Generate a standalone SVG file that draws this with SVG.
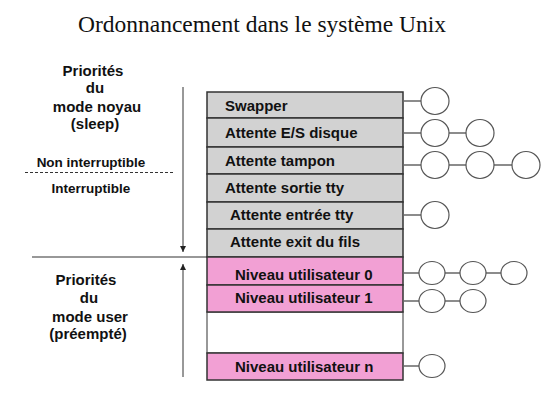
<svg xmlns="http://www.w3.org/2000/svg" width="550" height="413" viewBox="0 0 550 413">
<style>
.t{font-family:"Liberation Sans",Arial,sans-serif;font-weight:bold;font-size:15px;fill:#111}
.s{font-family:"Liberation Sans",Arial,sans-serif;font-weight:bold;font-size:13.5px;fill:#111}
.title{font-family:"Liberation Serif","Times New Roman",serif;font-size:23.5px;fill:#111}
.g{fill:#d2d2d2;stroke:#333;stroke-width:1.5}
.p{fill:#f2a0d4;stroke:#333;stroke-width:1.5}
.c{fill:#fff;stroke:#555;stroke-width:1.2}
.l{stroke:#666;stroke-width:1.5;fill:none}
.a{stroke:#333;stroke-width:1;fill:none}
</style>
<defs>
<marker id="ah" viewBox="0 0 6 6" refX="6" refY="3" markerWidth="6" markerHeight="6" orient="auto" markerUnits="userSpaceOnUse">
<path d="M0,0 L6,3 L0,6 z" fill="#222"/>
</marker>
</defs>
<rect width="550" height="413" fill="#fff"/>
<text class="title" x="262" y="32" text-anchor="middle">Ordonnancement dans le système Unix</text>

<g id="labels-noyau">
<text class="t" x="93" y="76" text-anchor="middle">Priorités</text>
<text class="t" x="95" y="93" text-anchor="middle">du</text>
<text class="t" x="97" y="112" text-anchor="middle">mode noyau</text>
<text class="t" x="95" y="129" text-anchor="middle">(sleep)</text>
<text class="s" x="91" y="167" text-anchor="middle">Non interruptible</text>
<line x1="25" y1="172.5" x2="173" y2="172.5" stroke="#333" stroke-width="1" stroke-dasharray="3,2"/>
<text class="s" x="91" y="193" text-anchor="middle">Interruptible</text>
</g>
<g id="labels-user">
<text class="t" x="86" y="285" text-anchor="middle">Priorités</text>
<text class="t" x="89" y="303" text-anchor="middle">du</text>
<text class="t" x="90" y="322" text-anchor="middle">mode user</text>
<text class="t" x="88" y="339" text-anchor="middle">(préempté)</text>
</g>

<g id="axes">
<line class="a" x1="183" y1="87" x2="183" y2="252" marker-end="url(#ah)"/>
<line class="a" x1="183" y1="377" x2="183" y2="264" marker-end="url(#ah)"/>
<line x1="32" y1="257" x2="207" y2="257" stroke="#333" stroke-width="1.2"/>
</g>

<g id="blank"><rect x="207" y="312" width="196" height="41" fill="#fff" stroke="#777" stroke-width="1.5"/></g>
<g id="swapper"><rect class="g" x="207" y="92" width="196" height="26"/><text class="t" x="225" y="111">Swapper</text></g>
<g id="es-disque"><rect class="g" x="207" y="118" width="196" height="29"/><text class="t" x="225" y="138">Attente E/S disque</text></g>
<g id="tampon"><rect class="g" x="207" y="147" width="196" height="27"/><text class="t" x="225" y="166">Attente tampon</text></g>
<g id="sortie-tty"><rect class="g" x="207" y="174" width="196" height="28"/><text class="t" x="225" y="193">Attente sortie tty</text></g>
<g id="entree-tty"><rect class="g" x="207" y="202" width="196" height="27"/><text class="t" x="230" y="220">Attente entrée tty</text></g>
<g id="exit-fils"><rect class="g" x="207" y="229" width="196" height="28"/><text class="t" x="230" y="247">Attente exit du fils</text></g>
<g id="niveau-0"><rect class="p" x="207" y="257" width="196" height="28"/><text class="t" x="235" y="280">Niveau utilisateur 0</text></g>
<g id="niveau-1"><rect class="p" x="207" y="285" width="196" height="27"/><text class="t" x="235" y="303">Niveau utilisateur 1</text></g>
<g id="niveau-n"><rect class="p" x="207" y="353" width="196" height="27"/><text class="t" x="235" y="372">Niveau utilisateur n</text></g>

<g id="connectors">
<line class="l" x1="403" y1="101" x2="421" y2="101"/>
<line class="l" x1="403" y1="133" x2="421" y2="133"/>
<line class="l" x1="449" y1="133" x2="466" y2="133"/>
<line class="l" x1="403" y1="165" x2="421" y2="165"/>
<line class="l" x1="449" y1="165" x2="466" y2="165"/>
<line class="l" x1="494" y1="165" x2="512" y2="165"/>
<line class="l" x1="403" y1="215" x2="421" y2="215"/>
<line class="l" x1="403" y1="273" x2="419" y2="273"/>
<line class="l" x1="445" y1="273" x2="460" y2="273"/>
<line class="l" x1="486" y1="273" x2="501" y2="273"/>
<line class="l" x1="403" y1="301" x2="419" y2="301"/>
<line class="l" x1="445" y1="301" x2="460" y2="301"/>
<line class="l" x1="403" y1="366" x2="419" y2="366"/>
</g>

<g id="p-swapper-1"><ellipse class="c" cx="435" cy="101" rx="14" ry="13.5"/></g>
<g id="p-es-1"><ellipse class="c" cx="435" cy="133" rx="14" ry="13.5"/></g>
<g id="p-es-2"><ellipse class="c" cx="480" cy="133" rx="14" ry="13.5"/></g>
<g id="p-tampon-1"><ellipse class="c" cx="435" cy="165" rx="14" ry="13.5"/></g>
<g id="p-tampon-2"><ellipse class="c" cx="480" cy="165" rx="14" ry="13.5"/></g>
<g id="p-tampon-3"><ellipse class="c" cx="526" cy="165" rx="14" ry="13.5"/></g>
<g id="p-entree-1"><ellipse class="c" cx="435" cy="215" rx="14" ry="13.5"/></g>
<g id="p-n0-1"><ellipse class="c" cx="432" cy="273" rx="13" ry="11.5"/></g>
<g id="p-n0-2"><ellipse class="c" cx="473" cy="273" rx="13" ry="11.5"/></g>
<g id="p-n0-3"><ellipse class="c" cx="514" cy="273" rx="13" ry="11.5"/></g>
<g id="p-n1-1"><ellipse class="c" cx="432" cy="301" rx="13" ry="11.5"/></g>
<g id="p-n1-2"><ellipse class="c" cx="473" cy="301" rx="13" ry="11.5"/></g>
<g id="p-nn-1"><ellipse class="c" cx="432" cy="366" rx="13" ry="11.5"/></g>
</svg>
